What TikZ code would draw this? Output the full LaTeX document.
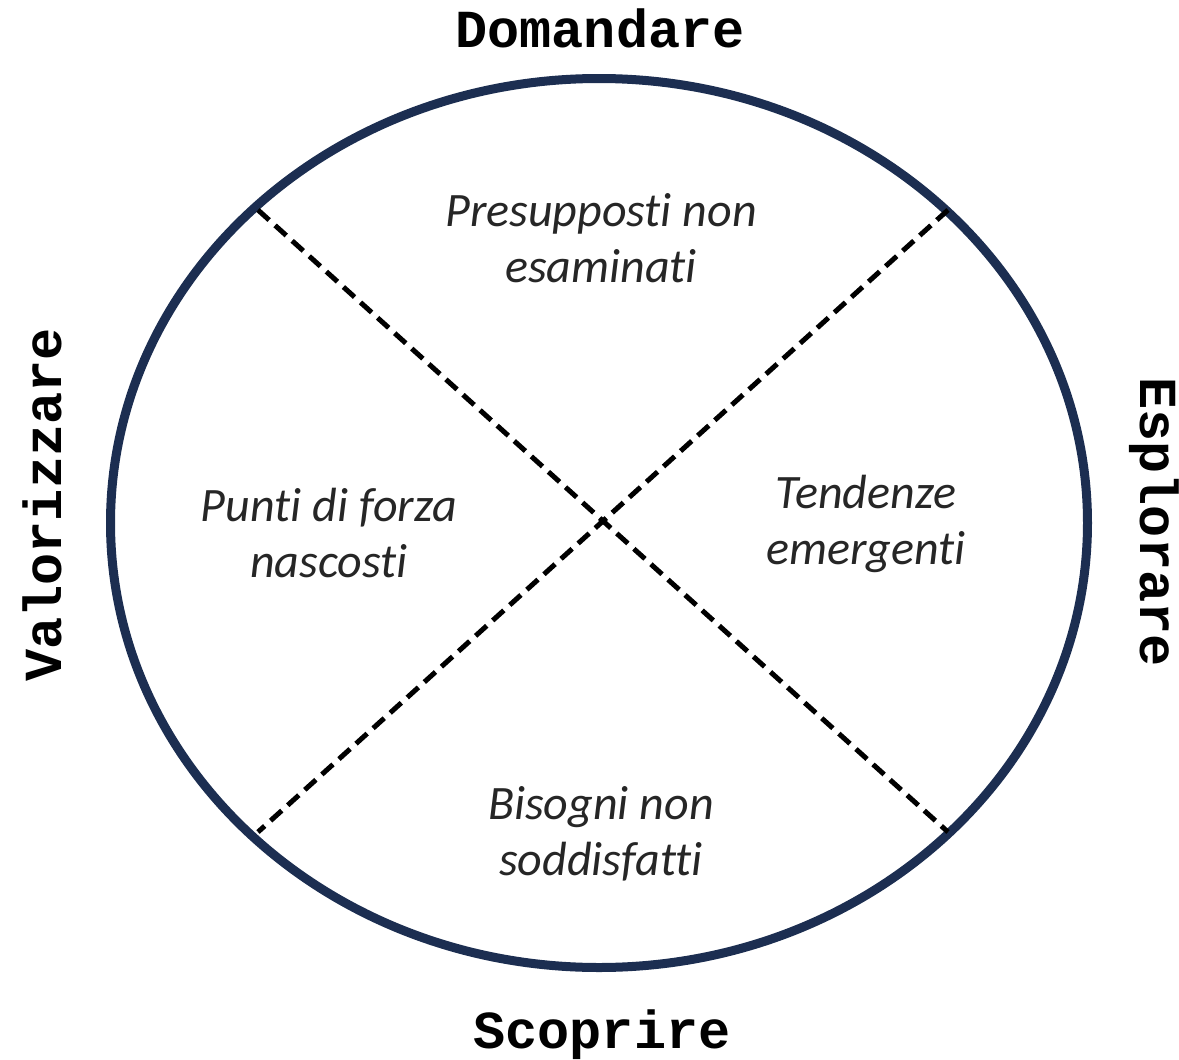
\documentclass[tikz,border=0pt]{standalone}
\usepackage{fontspec}
\setmainfont[Ligatures=NoCommon]{Carlito}
\setmonofont{Liberation Mono}
\definecolor{navy}{HTML}{1C2E51}
\definecolor{txtgray}{HTML}{262626}
\tikzset{
  verb/.style={font=\fontsize{53.5}{60}\selectfont\ttfamily\bfseries, inner sep=0pt},
  area/.style={font=\fontsize{48}{56}\selectfont\itshape, text=txtgray, align=center, inner sep=0pt},
}
\begin{document}
\begin{tikzpicture}[x=1pt, y=-1pt]
  \useasboundingbox (0,0) rectangle (1179,1060);

  % the circle and the two diagonals
  \draw[navy, line width=9pt] (599,523) ellipse (488.5 and 444.5);
  \coordinate (nw) at (258,210);
  \coordinate (ne) at (948,210);
  \coordinate (sw) at (258,832);
  \coordinate (se) at (948,832);
  \draw[line width=5pt, dash pattern=on 15pt off 8pt] (nw) -- (se);
  \draw[line width=5pt, dash pattern=on 15pt off 8pt] (ne) -- (sw);

  \node[verb] (domandare) at (600,28) {Domandare};
  \node[verb] (scoprire) at (602,1035) {Scoprire};
  \node[verb, rotate=90] (valorizzare) at (42,505) {Valorizzare};
  \node[verb, rotate=-90] (esplorare) at (1154,522) {Esplorare};

  \node[area] (presupposti) at (601,238) {Presupposti non\\esaminati};
  \node[area] (punti) at (329,533) {Punti di forza\\nascosti};
  \node[area] (tendenze) at (866,524) {Tendenze\\emergenti};
  \node[area] (bisogni) at (601,834) {Bisogni non\\soddisfatti};
\end{tikzpicture}
\end{document}
